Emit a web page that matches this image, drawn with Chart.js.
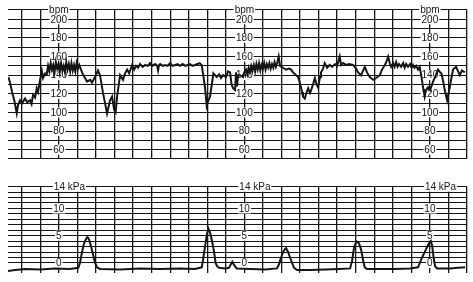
<!DOCTYPE html>
<html>
<head>
<meta charset="utf-8">
<script src="https://cdn.jsdelivr.net/npm/chart.js@4.4.1/dist/chart.umd.min.js"></script>
<style>
  html, body { margin: 0; padding: 0; background: #fff; }
  body { width: 473px; height: 282px; position: relative; overflow: hidden; }
  .box { position: absolute; left: 0; width: 473px; }
</style>
</head>
<body>
<div class="box" style="top:0;height:172px"><canvas id="fhrChart"></canvas></div>
<div class="box" style="top:176px;height:106px"><canvas id="tocoChart"></canvas></div>
<script>
// [time in grid squares, bpm]
const fhrTrace = [
  [-0.72,138],[-0.63,132],[-0.52,122],[-0.39,112],[-0.27,99],[-0.2,108],[-0.09,113],[0.02,110],[0.18,115],[0.29,111],
  [0.45,113],[0.53,109],[0.61,119],[0.72,116],[0.81,126],[0.88,122],[0.99,135],[1.08,145],[1.15,137],[1.26,142],
  [1.35,141],[1.42,150],[1.49,144],[1.56,153],[1.63,146],[1.70,151],[1.77,143],[1.84,154],[1.91,147],[1.98,152],
  [2.05,144],[2.12,153],[2.19,145],[2.26,150],[2.33,143],[2.40,154],[2.47,146],[2.54,152],[2.61,144],[2.68,153],
  [2.75,145],[2.82,151],[2.89,144],[2.96,153],[3.03,147],[3.10,151],
  [3.14,149],[3.25,143],[3.41,137],[3.52,133],[3.69,135],[3.79,132],[3.95,138],[4.11,145],[4.22,140],[4.38,121],
  [4.49,110],[4.6,99],[4.76,113],[4.87,117],[4.98,103],[5.06,100],[5.14,117],[5.3,140],[5.46,135],[5.57,142],
  [5.68,146],[5.79,142],[5.95,151],[6.06,146],[6.16,150],[6.27,148],[6.38,152],[6.52,149],[6.65,151],[6.79,150],
  [6.92,153],[7.05,150],[7.19,152],[7.3,150],[7.35,145],[7.4,151],[7.46,152],[7.6,150],[7.73,151],[7.87,150],
  [8.0,153],[8.14,150],[8.27,151],[8.4,152],[8.53,150],[8.67,152],[8.81,150],[8.94,151],[9.07,152],[9.2,150],
  [9.34,151],[9.47,152],[9.6,153],[9.7,151],[9.88,127],[9.97,107],[10.04,112],[10.15,117],[10.33,142],[10.51,138],
  [10.64,141],[10.74,137],[10.85,140],[11.01,138],[11.12,144],[11.23,143],[11.31,130],[11.39,126],[11.5,124],[11.55,143],
  [11.61,128],[11.66,140],[11.77,140],[11.93,138],[12.02,144],
  [12.09,146],[12.16,141],[12.23,148],[12.30,143],[12.37,150],[12.44,145],[12.51,151],[12.58,144],[12.65,152],[12.72,146],
  [12.79,153],[12.86,145],[12.93,151],[13.00,147],[13.07,153],[13.14,146],[13.21,152],[13.28,148],[13.35,153],[13.42,147],
  [13.49,152],[13.56,148],[13.63,154],[13.70,149],[13.77,153],[13.85,160],[13.92,150],
  [14.08,148],[14.25,146],[14.41,147],[14.52,146],[14.62,143],[14.79,140],[14.9,138],[15.0,131],[15.11,122],[15.16,117],
  [15.26,115],[15.33,120],[15.44,126],[15.54,121],[15.6,124],[15.7,130],[15.8,137],[15.89,130],[15.97,127],[16.08,138],
  [16.13,143],[16.24,147],[16.33,153],[16.46,148],[16.6,151],[16.73,149],[16.89,152],[17.0,150],[17.14,160],[17.21,151],
  [17.32,153],[17.48,151],[17.64,152],[17.86,151],[18.02,147],[18.13,143],[18.29,140],[18.4,145],[18.49,149],[18.61,143],
  [18.76,138],[18.94,135],[19.1,137],[19.3,140],[19.42,146],[19.57,151],[19.67,155],[19.75,160],[19.85,152],[19.91,149],
  [20.02,153],[20.1,149],[20.18,154],[20.26,149],[20.34,152],[20.45,149],[20.56,153],[20.64,148],[20.72,152],[20.82,149],
  [20.93,152],[21.01,148],[21.09,151],[21.17,148],[21.26,150],[21.36,146],[21.45,149],[21.55,138],[21.63,127],[21.72,117],
  [21.79,124],[21.9,127],[22.01,124],[22.17,133],[22.28,138],[22.44,146],[22.55,143],[22.62,142],[22.71,134],[22.8,124],
  [22.93,113],[23.07,127],[23.17,138],[23.25,146],[23.41,149],[23.52,144],[23.61,140],[23.73,145],[23.88,143]
];

// [time in grid squares, kPa]
const tocoTrace = [
  [-0.74,-1.5],[-0.36,-1.3],[0.18,-1.1],[0.99,-1.2],[1.8,-1.0],[2.6,-1.1],[3.05,-0.9],[3.14,0.0],[3.25,2.0],[3.36,3.6],
  [3.47,4.4],[3.54,4.8],[3.63,4.3],[3.74,3.0],[3.85,1.5],[3.95,0.0],[4.06,-0.8],[4.22,-1.1],[5.3,-1.2],[6.38,-1.0],
  [7.46,-1.1],[8.53,-1.0],[9.34,-1.1],[9.7,-0.8],[9.77,0.5],[9.88,3.0],[9.99,5.4],[10.06,6.3],[10.15,5.6],[10.26,4.0],
  [10.37,2.0],[10.45,0.0],[10.53,-0.6],[10.64,-0.9],[10.96,-1.0],[11.17,-0.9],[11.28,-0.2],[11.35,0.2],[11.45,-0.4],[11.59,-1.0],
  [12.31,-1.1],[13.12,-1.2],[13.76,-1.0],[13.87,-0.2],[13.98,1.0],[14.09,2.0],[14.2,2.6],[14.25,2.7],[14.36,2.0],[14.46,1.0],
  [14.57,0.0],[14.68,-0.9],[14.84,-1.3],[15.54,-1.3],[16.35,-1.2],[17.16,-1.1],[17.7,-1.0],[17.81,0.5],[17.91,2.8],[18.02,3.8],
  [18.07,3.9],[18.18,3.6],[18.29,2.5],[18.4,0.5],[18.49,-0.8],[18.61,-1.1],[19.31,-1.1],[20.12,-1.1],[20.93,-1.0],[21.36,-0.8],
  [21.52,0.5],[21.65,1.5],[21.79,2.5],[21.93,3.5],[22.05,4.0],[22.12,3.2],[22.2,1.0],[22.28,-0.6],[22.39,-1.0],[23.09,-1.0],
  [23.52,-0.9],[23.9,-0.8]
];

const bpmLabels = [60,80,100,120,140,160,180,200];
const kpaLabels = [0,5,10];
const labelColumns = [2,12,22];
const gridColumns = [0,1,2,3,4,5,6,7,8,9,10,11,12,13,14,15,16,17,18,19,20,21,22,23,24];

const INK = "#151515";
const FONT = "10px 'Liberation Sans', Arial, sans-serif";

function pts(trace) {
  return trace.map(p => ({ x: p[0], y: p[1] }));
}

function setTicks(values) {
  return function (scale) { scale.ticks = values.map(v => ({ value: v })); };
}

function label(ctx, text, x, y, align) {
  const w = ctx.measureText(text).width;
  const left = align === "left" ? x - 5 : x - w / 2;
  ctx.fillStyle = "#fff";
  ctx.fillRect(left - 1, y - 5, w + 2, 10);
  ctx.fillStyle = INK;
  ctx.textAlign = "left";
  ctx.textBaseline = "middle";
  ctx.fillText(text, left, y + 0.5);
}

const scaleLabels = {
  id: "scaleLabels",
  beforeDatasetsDraw(chart, args, opts) {
    const ctx = chart.ctx;
    const xs = chart.scales.x, ys = chart.scales.y;
    ctx.save();
    ctx.font = FONT;
    labelColumns.forEach(c => {
      const px = xs.getPixelForValue(c);
      opts.values.forEach(v => label(ctx, String(v), px, ys.getPixelForValue(v), "center"));
      label(ctx, opts.unit, px, ys.getPixelForValue(opts.unitAt), opts.unitAlign);
    });
    ctx.restore();
  }
};

function xAxis() {
  return {
    type: "linear", min: -0.74, max: 24.0,
    afterBuildTicks: setTicks(gridColumns),
    ticks: { display: false },
    grid: { color: INK, lineWidth: 1.3, drawTicks: false },
    border: { display: false }
  };
}

function makeChart(id, data, yMin, yMax, yGrid, padding, labelOpts) {
  return new Chart(document.getElementById(id), {
    type: "line",
    data: {
      datasets: [{
        data: data,
        borderColor: INK,
        borderWidth: 2,
        pointRadius: 0,
        tension: 0,
        fill: false
      }]
    },
    options: {
      responsive: true,
      maintainAspectRatio: false,
      animation: false,
      layout: { padding: padding },
      plugins: { legend: { display: false }, tooltip: { enabled: false }, scaleLabels: labelOpts },
      scales: {
        x: xAxis(),
        y: {
          type: "linear", min: yMin, max: yMax,
          afterBuildTicks: setTicks(yGrid),
          ticks: { display: false },
          grid: { color: INK, lineWidth: 1.1, drawTicks: false },
          border: { display: false }
        }
      }
    },
    plugins: [scaleLabels]
  });
}

const bpmGrid = [];
for (let v = 50; v <= 210; v += 10) bpmGrid.push(v);
const kpaGrid = [];
for (let v = 0; v <= 14; v += 1) kpaGrid.push(v);

makeChart("fhrChart", pts(fhrTrace), 50, 210, bpmGrid,
  { left: 8, top: 10, right: 6, bottom: 13 },
  { values: bpmLabels, unit: "bpm", unitAt: 210, unitAlign: "center" });

makeChart("tocoChart", pts(tocoTrace), -1.9, 14, kpaGrid,
  { left: 8, top: 10.7, right: 6, bottom: 8.7 },
  { values: kpaLabels, unit: "14 kPa", unitAt: 14, unitAlign: "left" });
</script>
</body>
</html>
